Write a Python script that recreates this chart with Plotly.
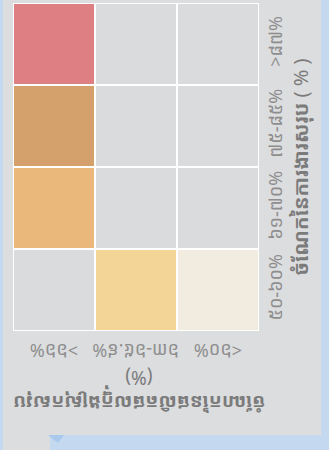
import plotly.graph_objects as go

# categories (chart is drawn turned a quarter-turn, as in the reference)
gdp_labels = [">៦៦%", "៦៣-៦៥.៩%", "<៦០%"]
employment_labels = ["៥០-៦០%", "៦១-៧០%", "៧៥-៨៥%", ">៨៧%"]

# class code per cell, one row per employment_labels entry (0 = no data)
cell_class = [
    [0, 2, 1],
    [3, 0, 0],
    [4, 0, 0],
    [5, 0, 0],
]
class_colors = ["#dadbdc", "#f2ebe0", "#f3d597", "#e9b87a", "#d4a06b", "#de7f83"]

x_title = "<b>ចំណែកនៃផលិតផលក្នុងស្រុកសរុប</b><br>(%)"
y_title = "<b>ចំណែកនៃការងារសរុប</b> ( % )"

W, H = 329, 450
L, R, T, B = 13, 70, 3, 119
PW, PH = W - L - R, H - T - B


def px(x):
    return (x - L) / PW


def py(y):
    return 1 - (y - T) / PH


n = len(class_colors)
colorscale = []
for i, c in enumerate(class_colors):
    colorscale.append([i / n, c])
    colorscale.append([(i + 1) / n, c])

font = "Noto Sans Khmer, Khmer OS, Noto Sans, sans-serif"

fig = go.Figure()
fig.add_trace(go.Heatmap(
    x=gdp_labels, y=employment_labels, z=cell_class,
    zmin=-0.5, zmax=n - 0.5, colorscale=colorscale, showscale=False,
    xgap=2, ygap=2, hoverinfo="skip",
))

# panel and callout background
fig.add_shape(type="rect", xref="paper", yref="paper", x0=px(3), x1=px(321), y0=py(435), y1=py(0),
              fillcolor="#dcdddf", line_width=0, layer="below")
fig.add_shape(type="rect", xref="paper", yref="paper", x0=px(3), x1=px(50), y0=py(450), y1=py(434),
              fillcolor="#dcdddf", line_width=0, layer="below")
fig.add_shape(type="path", xref="paper", yref="paper",
              path=f"M {px(48)},{py(435)} L {px(64)},{py(435)} L {px(58)},{py(443)} Z",
              fillcolor="#a9c8ee", line_width=0, layer="below")
fig.add_shape(type="rect", xref="paper", yref="paper", x0=0, x1=1, y0=0, y1=1,
              fillcolor="#ffffff", line_width=0, layer="below")

# x tick labels, upside down and centred under each column
for lab in gdp_labels:
    fig.add_annotation(text=lab, x=lab, xref="x", yref="paper", y=py(365),
                       textangle=180, showarrow=False, font=dict(size=18, color="#8e8e8e", family=font))

# x title, turned upside down like the tick labels
fig.add_annotation(text=x_title, xref="paper", yref="paper", x=px(139), y=py(418),
                   textangle=180, showarrow=False, font=dict(size=19, color="#7b7b7b", family=font))

fig.update_layout(
    width=W, height=H,
    margin=dict(l=L, r=R, t=T, b=B),
    paper_bgcolor="#c4d8f0",
    plot_bgcolor="#ffffff",
    font=dict(family=font, color="#8e8e8e", size=18),
    xaxis=dict(categoryorder="array", categoryarray=gdp_labels, showticklabels=False,
               showgrid=False, zeroline=False, automargin=False),
    yaxis=dict(categoryorder="array", categoryarray=employment_labels, side="right", tickangle=-90,
               showgrid=False, zeroline=False, ticklabelstandoff=4, automargin=False,
               title=dict(text=y_title, standoff=0, font=dict(size=20, color="#7b7b7b"))),
)

fig.write_html("out.html", config={"displayModeBar": False},
               post_script="document.body.style.margin='0';")
